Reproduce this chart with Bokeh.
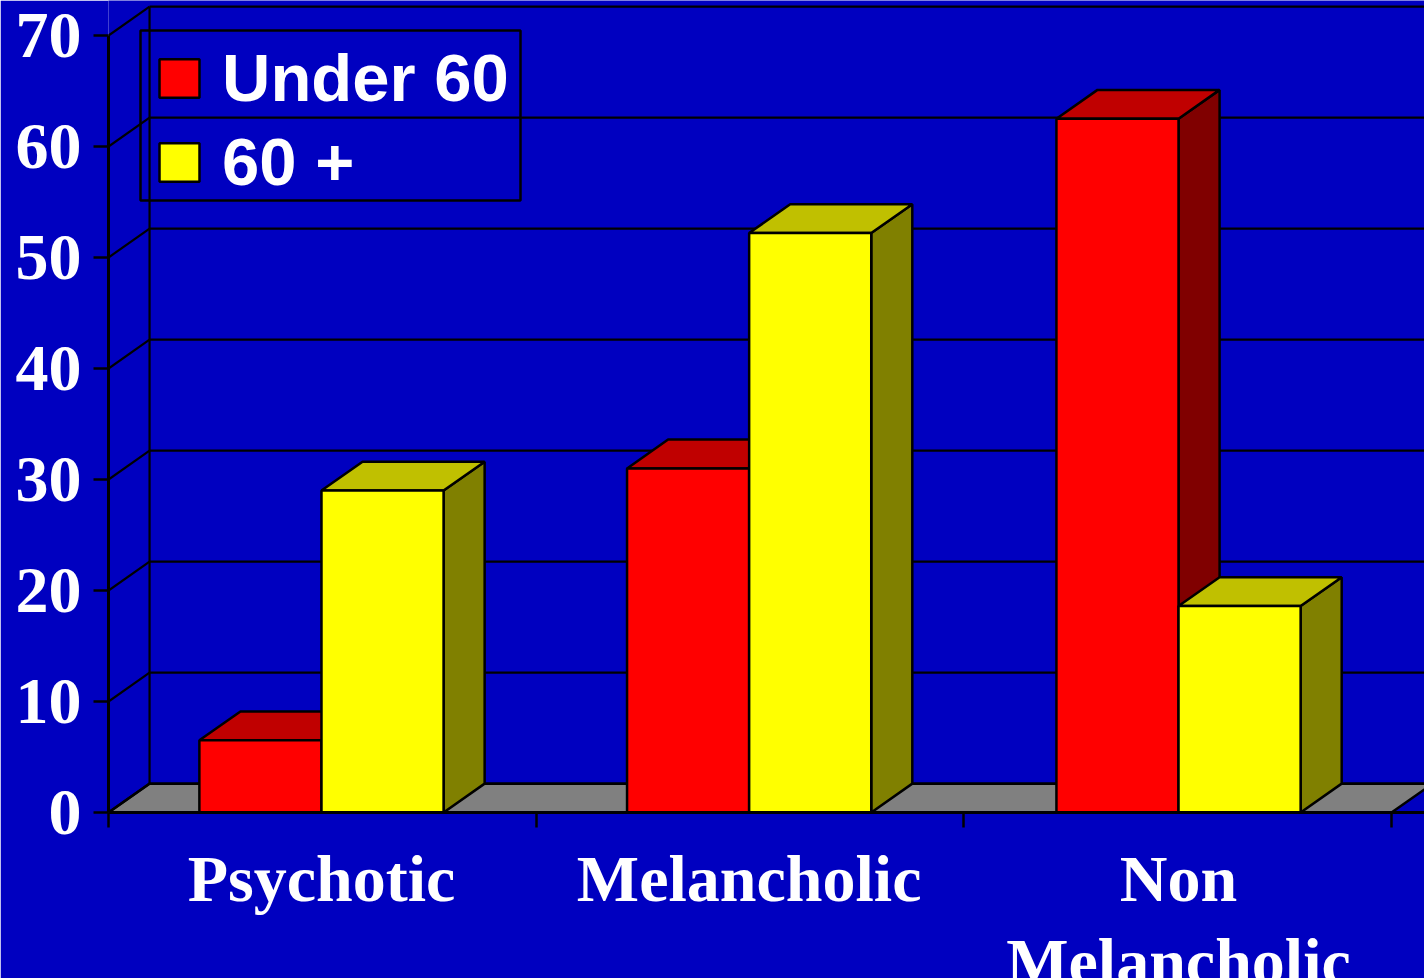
from bokeh.plotting import figure
from bokeh.models import BoxAnnotation, FixedTicker, LinearAxis, Legend, LegendItem, Range1d
from bokeh.embed import file_html
from bokeh.resources import INLINE

categories = ["Psychotic", "Melancholic", "Non\nMelancholic"]
under_60 = [6.5, 31.0, 62.5]
over_60 = [29.0, 52.2, 18.6]
y_ticks = [0, 10, 20, 30, 40, 50, 60, 70]

BG = "#0000C0"
DX, DY = 0.096, 2.6
BW = 0.2855
LW = 2.5
centers = [0.498, 1.498, 2.502]
n = len(y_ticks)

p = figure(width=1424, height=978, frame_width=1316, frame_height=812,
           output_backend="svg", toolbar_location=None,
           x_range=Range1d(0, 1316 / 427.67), y_range=Range1d(0, 812 / 11.1),
           x_axis_type=None, y_axis_type=None,
           min_border_left=108, min_border_bottom=166, min_border_top=0, min_border_right=0,
           background_fill_color=BG, border_fill_color=BG, outline_line_color=None)
p.styles = {"position": "absolute", "left": "0px", "top": "0px"}
p.grid.visible = False

# floor, back wall and side wall
p.patch([0, DX, 3 + DX, 3], [0, DY, DY, 0], fill_color="#808080", line_color="black", line_width=LW)
p.segment([DX] * n, [v + DY for v in y_ticks], [3 + DX] * n, [v + DY for v in y_ticks],
          line_color="black", line_width=2.2)
p.segment([0] * n, y_ticks, [DX] * n, [v + DY for v in y_ticks], line_color="black", line_width=2.2)
p.line([DX, DX], [DY, 70 + DY], line_color="black", line_width=2.2)

rr = ry = None
for i, c in enumerate(centers):
    l, r, v = c - BW, c, under_60[i]
    p.patch([r, r + DX, r + DX, r], [0, DY, v + DY, v], fill_color="#800000", line_color="black", line_width=LW)
    p.patch([l, l + DX, r + DX, r], [v, v + DY, v + DY, v], fill_color="#C00000", line_color="black", line_width=LW)
    rr = p.vbar(x=[c - BW / 2], top=[v], bottom=0, width=BW, fill_color="#FF0000", line_color="black", line_width=LW)
    l, r, v = c, c + BW, over_60[i]
    p.patch([r, r + DX, r + DX, r], [0, DY, v + DY, v], fill_color="#808000", line_color="black", line_width=LW)
    p.patch([l, l + DX, r + DX, r], [v, v + DY, v + DY, v], fill_color="#C0C000", line_color="black", line_width=LW)
    ry = p.vbar(x=[c + BW / 2], top=[v], bottom=0, width=BW, fill_color="#FFFF00", line_color="black", line_width=LW)

yax = LinearAxis(ticker=FixedTicker(ticks=y_ticks), bounds=(0, 70), axis_line_color="black", axis_line_width=3,
                 major_tick_line_color="black", major_tick_line_width=2.5, major_tick_out=15, major_tick_in=0,
                 minor_tick_line_color=None, major_label_text_color="white",
                 major_label_text_font="Liberation Serif", major_label_text_font_style="bold",
                 major_label_text_font_size="66px", major_label_standoff=12)
p.add_layout(yax, "left")

xax = LinearAxis(ticker=FixedTicker(ticks=centers, minor_ticks=[0, 1, 2, 3]),
                 axis_line_color="black", axis_line_width=3,
                 major_tick_line_color=None, minor_tick_line_color="black", minor_tick_line_width=2.5,
                 minor_tick_out=15, minor_tick_in=0,
                 major_label_overrides={c: t for c, t in zip(centers, categories)},
                 major_label_text_color="white", major_label_text_font="Liberation Serif",
                 major_label_text_font_style="bold", major_label_text_font_size="66px",
                 major_label_text_line_height=1.14, major_label_standoff=14)
p.add_layout(xax, "below")

legend = Legend(items=[LegendItem(label="Under 60", renderers=[rr]), LegendItem(label="60 +", renderers=[ry])],
                location=(46, 612), background_fill_alpha=0, border_line_color=None,
                label_text_color="white", label_text_font="Liberation Sans", label_text_font_style="bold",
                label_text_font_size="67px", glyph_width=50, glyph_height=48, spacing=7,
                padding=0, margin=0, label_standoff=18)
p.add_layout(legend, "center")
p.add_layout(BoxAnnotation(left=32, right=412, top=782, bottom=612, left_units="screen", right_units="screen",
                           top_units="screen", bottom_units="screen", fill_alpha=0,
                           line_color="black", line_alpha=1, line_width=2.5))

open("out.html", "w").write(file_html(p, INLINE))
